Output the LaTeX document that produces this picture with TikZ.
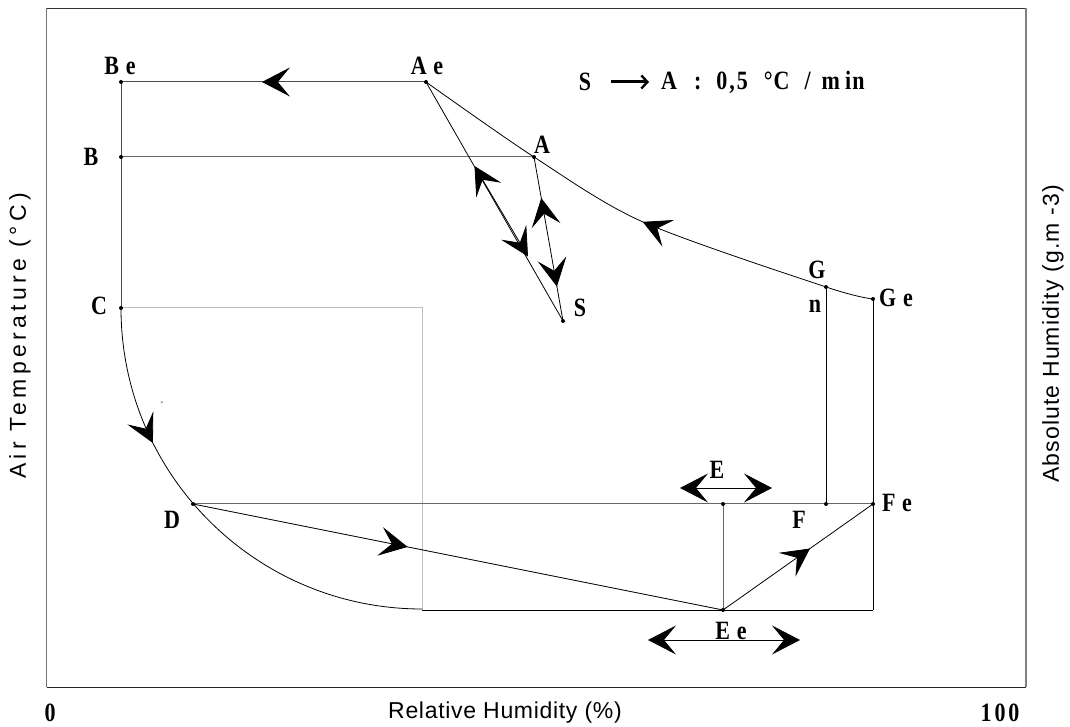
\documentclass[tikz,border=0pt]{standalone}
\usepackage{fontspec}
\setmainfont{Liberation Serif}
\newfontfamily\lblfont[LetterSpace=6]{Liberation Serif}
\newfontfamily\sansL[LetterSpace=19]{Liberation Sans}
\newfontfamily\sansR[LetterSpace=5]{Liberation Sans}
\newfontfamily\sansB[LetterSpace=3]{Liberation Sans}
\usetikzlibrary{arrows.meta,decorations.markings}
\tikzset{bigtip/.tip={Stealth[length=28pt,width=29pt,inset=12pt,color=black]}}
\newcommand\tall[1]{\scalebox{1}[1.2]{#1}}
\begin{document}
\begin{tikzpicture}[x=1pt,y=1pt,
  lbl/.style={font=\lblfont\fontsize{22}{22}\selectfont\bfseries,inner sep=0pt},
  dot/.style={circle,fill=black,inner sep=0pt,minimum size=4pt},
  dk/.style={draw=black!70,line width=1pt},
  blk/.style={draw=black,line width=0.8pt},
  lg/.style={draw=black!25,line width=1pt},
  mg/.style={draw=black!60,line width=1pt},
  fwd/.style={postaction={decorate},decoration={markings,mark=at position #1 with {\arrow{bigtip}}}},
  axl/.style={inner sep=0pt,rotate=90},
]
\useasboundingbox[fill=white] (0,0) rectangle (1070,727);
% frame
\coordinate (FTL) at (46.7,718.7);
\coordinate (FTR) at (1025.7,718.7);
\coordinate (FBL) at (46.7,39.7);
\coordinate (FBR) at (1025.7,39.7);
\draw[draw=black!80,line width=1.2pt] (FTL) -- (FTR);
\draw[draw=black!85,line width=1.2pt] (FBL) -- (FBR);
\draw[draw=black!55,line width=1pt] (FBL) -- (FTL);
\draw[draw=black!50,line width=2pt] (FBR) -- (FTR);
% points
\coordinate (Be) at (121,645);
\coordinate (Ae) at (426,645);
\coordinate (B) at (121,570);
\coordinate (A) at (534,570);
\coordinate (C) at (121,419);
\coordinate (S) at (563,406);
\coordinate (M) at (643,505);
\coordinate (G) at (826,440);
\coordinate (Ge) at (873,428);
\coordinate (D) at (193,223);
\coordinate (E) at (723,223);
\coordinate (F) at (826,223);
\coordinate (Fe) at (873,223);
\coordinate (Ee) at (723,117);
\coordinate (BR) at (873,117);
\coordinate (GT) at (422,419);
\coordinate (GB) at (422,117);
\coordinate (s1) at (474.5,561);
\coordinate (s2) at (528,470.5);
\coordinate (e1) at (680,239);
\coordinate (e2) at (772,239);
\coordinate (ee1) at (648,87);
\coordinate (ee2) at (800,87);
% light gray L
\draw[lg] (C) -- (GT) -- (GB);
% gray lines
\draw[dk,fwd=0.538] (Ae) -- (Be);
\draw[dk] (Be) -- (C);
\draw[mg] (B) -- (A);
\draw[mg] (D) -- (Fe);
\draw[mg] (E) -- (Ee);
% black lines
\draw[blk] (Ae) -- (S);
\draw[blk,{bigtip}-{bigtip}] (s1) -- (s2);
\draw[blk,postaction={decorate},decoration={markings,
  mark=at position 0.25 with {\arrowreversed{bigtip}},
  mark=at position 0.79 with {\arrow{bigtip}}}] (A) -- (S);
\draw[blk,fwd=0.485] plot[smooth,tension=0.5] coordinates {(Ge) (G) (M) (A) (Ae)};
\draw[blk,fwd=0.296] (C) arc[start angle=180,end angle=270,radius=301pt];
\draw[blk] (GB) -- (BR);
\draw[blk,fwd=0.405] (D) -- (Ee);
\draw[blk,fwd=0.58] (Ee) -- (Fe);
\draw[blk] (G) -- (F);
\draw[blk] (Ge) -- (BR);
\draw[blk,{bigtip}-{bigtip}] (e1) -- (e2);
\draw[blk,{bigtip}-{bigtip}] (ee1) -- (ee2);
% dots
\foreach \p in {Be,Ae,B,A,C,S,G,Ge,D,E,F,Fe,Ee}
  \node[dot] (d\p) at (\p) {};
% labels
\node[lbl] (lBe) at (120,661) {\tall{B e}};
\node[lbl] (lAe) at (427,661) {\tall{A e}};
\node[lbl] (lB) at (91,570) {\tall{B}};
\node[lbl] (lA) at (542,582) {\tall{A}};
\node[lbl] (lC) at (99,421) {\tall{C}};
\node[lbl] (lS) at (580,419) {\tall{S}};
\node[lbl] (lG) at (817,457) {\tall{G}};
\node[lbl] (ln) at (815,421) {\tall{n}};
\node[lbl] (lGe) at (896,429) {\tall{G e}};
\node[lbl] (lE) at (717,257) {\tall{E}};
\node[lbl] (lF) at (799,207) {\tall{F}};
\node[lbl] (lFe) at (897,224) {\tall{F e}};
\node[lbl] (lD) at (172,207) {\tall{D}};
\node[lbl] (lEe) at (731,96) {\tall{E e}};
\node[inner sep=0pt,font=\fontsize{8}{8}\selectfont] (dash) at (162,324) {-};
% title
\node[lbl] (tS) at (585,645) {\tall{S}};
\node[lbl,anchor=west] (tA) at (661,645) {\tall{A\hspace{17pt}:\hspace{15pt}0\hspace{2pt},\hspace{2pt}5\hspace{16pt}°\hspace{1pt}C\hspace{15pt}/\hspace{11pt}m\hspace{5pt}in}};
\draw[line width=3pt,shorten <=20pt,shorten >=12pt,-{Straight Barb[length=6pt,width=13pt,line width=2.4pt]}] (tS) -- (tA);
% axis texts
\node[lbl] (x0) at (50,14) {\tall{0}};
\node[lbl] (x100) at (1000,14) {\tall{1\hspace{3pt}0\hspace{3pt}0}};
\node[inner sep=0pt,font=\sansB\fontsize{23}{23}\selectfont] (xl) at (505,14) {Relative Humidity (\%)};
\node[axl,font=\sansL\fontsize{23}{23}\selectfont] (yl) at (20,391) {Air Temperature (°C)};
\node[axl,font=\sansR\fontsize{23}{23}\selectfont] (yr) at (1053,393) {Absolute Humidity (g.m -3)};
\end{tikzpicture}
\end{document}
